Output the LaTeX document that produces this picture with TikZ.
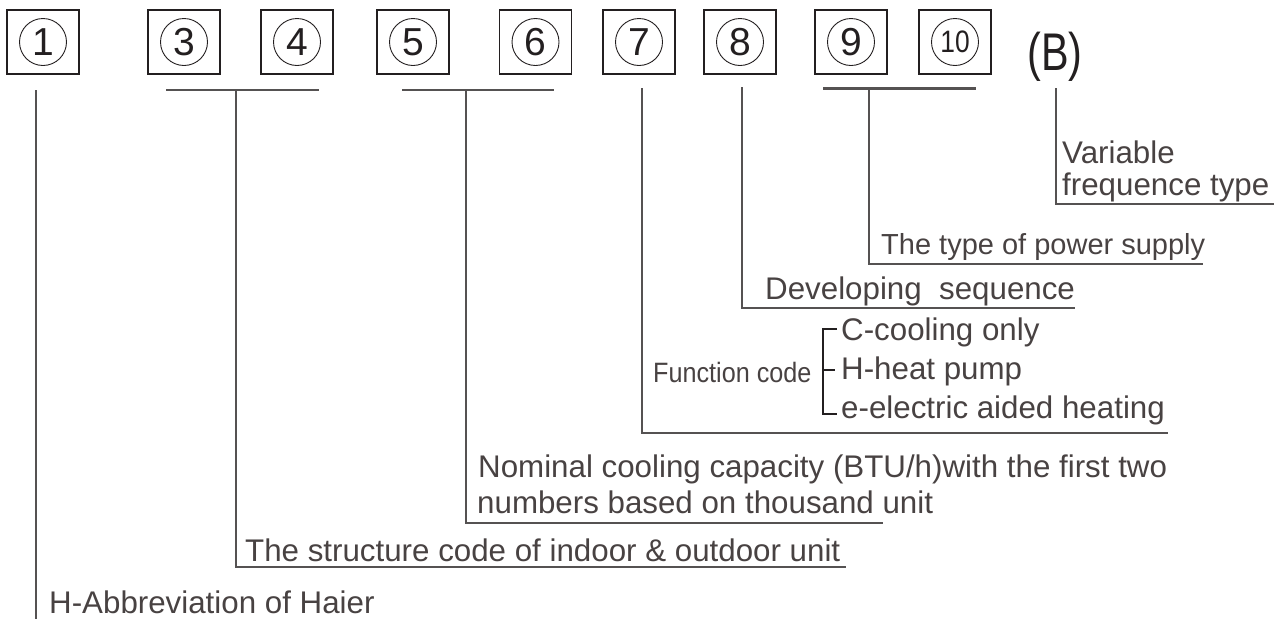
\documentclass[tikz,border=0pt]{standalone}
\usepackage{fontspec}
\setmainfont{Liberation Sans}
\definecolor{txt}{RGB}{72,66,66}
\definecolor{ln}{RGB}{85,82,82}
\definecolor{ink}{RGB}{35,31,32}
\tikzset{
  box/.style={draw=ink, line width=1.4pt, minimum width=72pt, minimum height=64pt, inner sep=0pt},
  num/.style={draw=ink, circle, line width=0.9pt, minimum size=47pt, inner sep=0pt, text=ink, font=\fontsize{39}{39}\selectfont},
  lbl/.style={anchor=base west, inner sep=0pt, text=txt, font=\fontsize{31.3}{36}\selectfont},
  lead/.style={draw=ln, line width=1.5pt},
  brk/.style={draw=ln, line width=2.2pt},
  fbrk/.style={draw=ink, line width=2pt},
}
\begin{document}
\begin{tikzpicture}[x=1pt,y=-1pt]
\useasboundingbox (0,0) rectangle (1277,619);
% boxes with circled numbers
\foreach \n/\cx in {1/43,3/184,4/297,5/413,6/535.5,7/639,8/740,9/851}{
  \node[box] (b\n) at (\cx,42) {};
  \node[num] (c\n) at (b\n.center) {\n};
}
\node[box] (b10) at (955,42) {};
\node[num] (c10) at (b10.center) {\fontsize{31}{31}\selectfont\scalebox{0.85}[1]{10}};
\node[anchor=base, inner sep=0pt, text=ink, font=\fontsize{53}{53}\selectfont] (bb) at (1055,70) {\scalebox{0.78}[1]{(B)}};

% labels
\node[lbl] (tB1) at (1062,163) {Variable};
\node[lbl] (tB2) at (1062,195) {frequence type};
\node[lbl, font=\fontsize{29}{34}\selectfont] (t910) at (881,254) {The type of power supply};
\node[lbl] (t8) at (765,299) {Developing\ \ sequence};
\node[lbl] (f1) at (841,340) {C-cooling only};
\node[lbl] (f2) at (841,379) {H-heat pump};
\node[lbl] (f3) at (841,418) {e-electric aided heating};
\node[anchor=base west, inner sep=0pt, text=txt, font=\fontsize{28}{32}\selectfont] (t7) at (653,382) {\scalebox{0.9}[1]{Function code}};
\node[lbl] (t56a) at (478,477) {Nominal cooling capacity (BTU/h)with the first two};
\node[lbl] (t56b) at (477,513) {numbers based on thousand unit};
\node[lbl] (t34) at (245,561) {The structure code of indoor \& outdoor unit};
\node[lbl] (t1) at (49,613) {H-Abbreviation of Haier};

% bracket tops
\coordinate (k34a) at (166,90); \coordinate (k34b) at (319,90); \coordinate (k34) at (236,90);
\coordinate (k56a) at (402,90); \coordinate (k56b) at (554,90); \coordinate (k56) at (466,90);
\coordinate (k910a) at (823,88.5); \coordinate (k910b) at (976,88.5); \coordinate (k910) at (869,88.5);
\draw[brk] (k34a) -- (k34b);
\draw[brk] (k56a) -- (k56b);
\draw[brk] (k910a) -- (k910b);

% end points of underlines
\coordinate (e1) at (36,619);
\coordinate (e34) at (846,567);
\coordinate (e56) at (883,523);
\coordinate (e7) at (1168,433);
\coordinate (e8) at (1075,308);
\coordinate (e910) at (1203,264);
\coordinate (eB) at (1274,204);

% leaders
\draw[lead] (36,90) -- (e1);
\draw[lead] (k34) |- (e34);
\draw[lead] (k56) |- (e56);
\draw[lead] (642,88) |- (e7);
\draw[lead] (742,87) |- (e8);
\draw[lead] (k910) |- (e910);
\draw[lead] (1056,88) |- (eB);

% function code bracket
\coordinate (fa) at (823,329); \coordinate (fb) at (823,414);
\draw[fbrk] ([xshift=14pt]fa) -- (fa) -- (fb) -- ([xshift=14pt]fb);
\draw[fbrk] (823,370) -- (835,370);
\end{tikzpicture}
\end{document}
